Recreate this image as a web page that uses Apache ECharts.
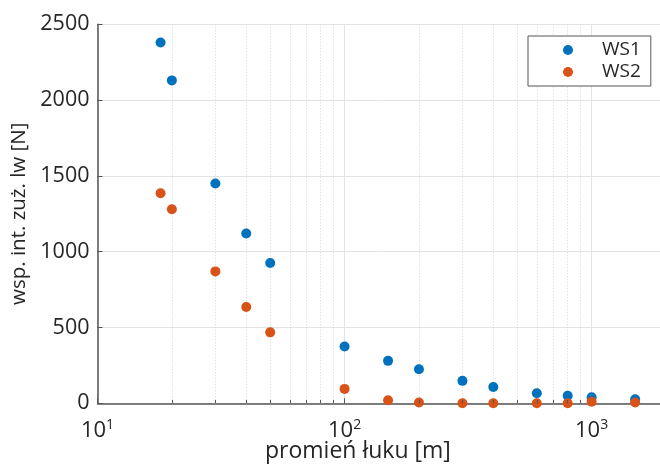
<!DOCTYPE html>
<html>
<head>
<meta charset="utf-8">
<script src="https://cdn.jsdelivr.net/npm/echarts@6/dist/echarts.min.js"></script>
<style>
  html, body { margin: 0; padding: 0; background: #fff; }
  #chart { width: 660px; height: 466px; }
</style>
</head>
<body>
<div id="chart"></div>
<script>
// Curve radius [m]
const radius = [18, 20, 30, 40, 50, 100, 150, 200, 300, 400, 600, 800, 1000, 1500];
// Wear intensity coefficient [N] for both measurement sets
const ws1 = [2380, 2130, 1450, 1120, 925, 375, 280, 225, 148, 108, 66, 50, 40, 26];
const ws2 = [1385, 1280, 870, 635, 468, 95, 20, 5, 0, 0, 0, 0, 10, 5];
const seriesNames = ['WS1', 'WS2'];
const yTicks = [0, 500, 1000, 1500, 2000, 2500];

const FONT = '"Open Sans", "Noto Sans", sans-serif';
const TEXT = '#262626';
const AXIS = '#555555';
const GRID = '#e3e3e3';
const X_MIN = 10, X_MAX = 2000;

// minor positions 2..9 within each decade of the log axis
const minorX = [];
for (let d = X_MIN; d < X_MAX; d *= 10) {
  for (let k = 2; k <= 9; k++) {
    if (d * k < X_MAX) minorX.push(d * k);
  }
}

const minorGrid = minorX.map(v => ({ xAxis: v }));
const minorTicks = minorX.map(v => [{ coord: [v, 0] }, { coord: [v, 22] }]);

const chart = echarts.init(document.getElementById('chart'), null, { renderer: 'canvas' });

chart.setOption({
  animation: false,
  backgroundColor: '#ffffff',
  textStyle: { fontFamily: FONT },
  grid: {
    left: 97.5, top: 24.3, right: -6, bottom: 62.7,
    containLabel: false,
    outerBoundsMode: 'none'
  },
  legend: {
    orient: 'vertical',
    left: 528,
    top: 36,
    padding: [4, 10, 4, 35],
    itemGap: 2,
    itemWidth: 10,
    itemHeight: 10,
    icon: 'circle',
    borderColor: '#555555',
    borderWidth: 1,
    backgroundColor: '#ffffff',
    textStyle: { fontFamily: FONT, fontSize: 19, color: TEXT, lineHeight: 20, padding: [0, 0, 0, 24] },
    data: seriesNames
  },
  xAxis: {
    type: 'log',
    logBase: 10,
    min: X_MIN,
    max: X_MAX,
    axisLine: { show: true, onZero: false, lineStyle: { color: AXIS, width: 1.5 } },
    axisTick: { show: true, inside: true, length: 5, lineStyle: { color: AXIS } },
    splitLine: { show: true, lineStyle: { color: GRID, width: 1 } },
    axisLabel: {
      margin: 15,
      showMinLabel: true,
      showMaxLabel: true,
      formatter: function (v) {
        const e = Math.log10(v);
        if (Math.abs(e - Math.round(e)) < 1e-9) {
          return '{a|10}{b|' + Math.round(e) + '}';
        }
        return '';
      },
      rich: {
        a: { fontFamily: FONT, fontSize: 22, color: TEXT, lineHeight: 24 },
        b: { fontFamily: FONT, fontSize: 14, color: TEXT, lineHeight: 10, verticalAlign: 'top' }
      }
    }
  },
  yAxis: {
    type: 'value',
    min: yTicks[0],
    max: yTicks[yTicks.length - 1],
    interval: 500,
    name: 'wsp. int. zuż. lw [N]',
    nameLocation: 'middle',
    nameGap: 54,
    nameTextStyle: { fontFamily: FONT, fontSize: 20.5, color: TEXT },
    axisLine: { show: true, lineStyle: { color: AXIS, width: 1.5 } },
    axisTick: { show: true, inside: true, length: 5, lineStyle: { color: AXIS } },
    splitLine: { show: true, lineStyle: { color: GRID, width: 1 } },
    axisLabel: {
      margin: 8, fontFamily: FONT, fontSize: 21.5, color: TEXT,
      formatter: v => String(v)
    }
  },
  graphic: [{
    type: 'text',
    left: 265,
    top: 440,
    style: {
      text: 'promień łuku [m]',
      font: '23px ' + FONT,
      fill: TEXT
    },
    silent: true
  }],
  series: [
    {
      name: 'WS1',
      type: 'scatter',
      clip: false,
      symbol: 'circle',
      symbolSize: 10,
      itemStyle: { color: '#0072BD', opacity: 1 },
      data: radius.map((r, i) => [r, ws1[i]]),
      markLine: {
        silent: true,
        symbol: 'none',
        z: 1,
        label: { show: false },
        emphasis: { disabled: true },
        lineStyle: { color: '#d6d6d6', width: 1, type: [1, 2] },
        data: minorGrid
      }
    },
    {
      name: 'WS2',
      type: 'scatter',
      clip: false,
      symbol: 'circle',
      symbolSize: 10,
      itemStyle: { color: '#D95319', opacity: 1 },
      data: radius.map((r, i) => [r, ws2[i]]),
      markLine: {
        silent: true,
        symbol: 'none',
        label: { show: false },
        emphasis: { disabled: true },
        lineStyle: { color: AXIS, width: 1, type: 'solid' },
        data: minorTicks
      }
    }
  ]
});
</script>
</body>
</html>
